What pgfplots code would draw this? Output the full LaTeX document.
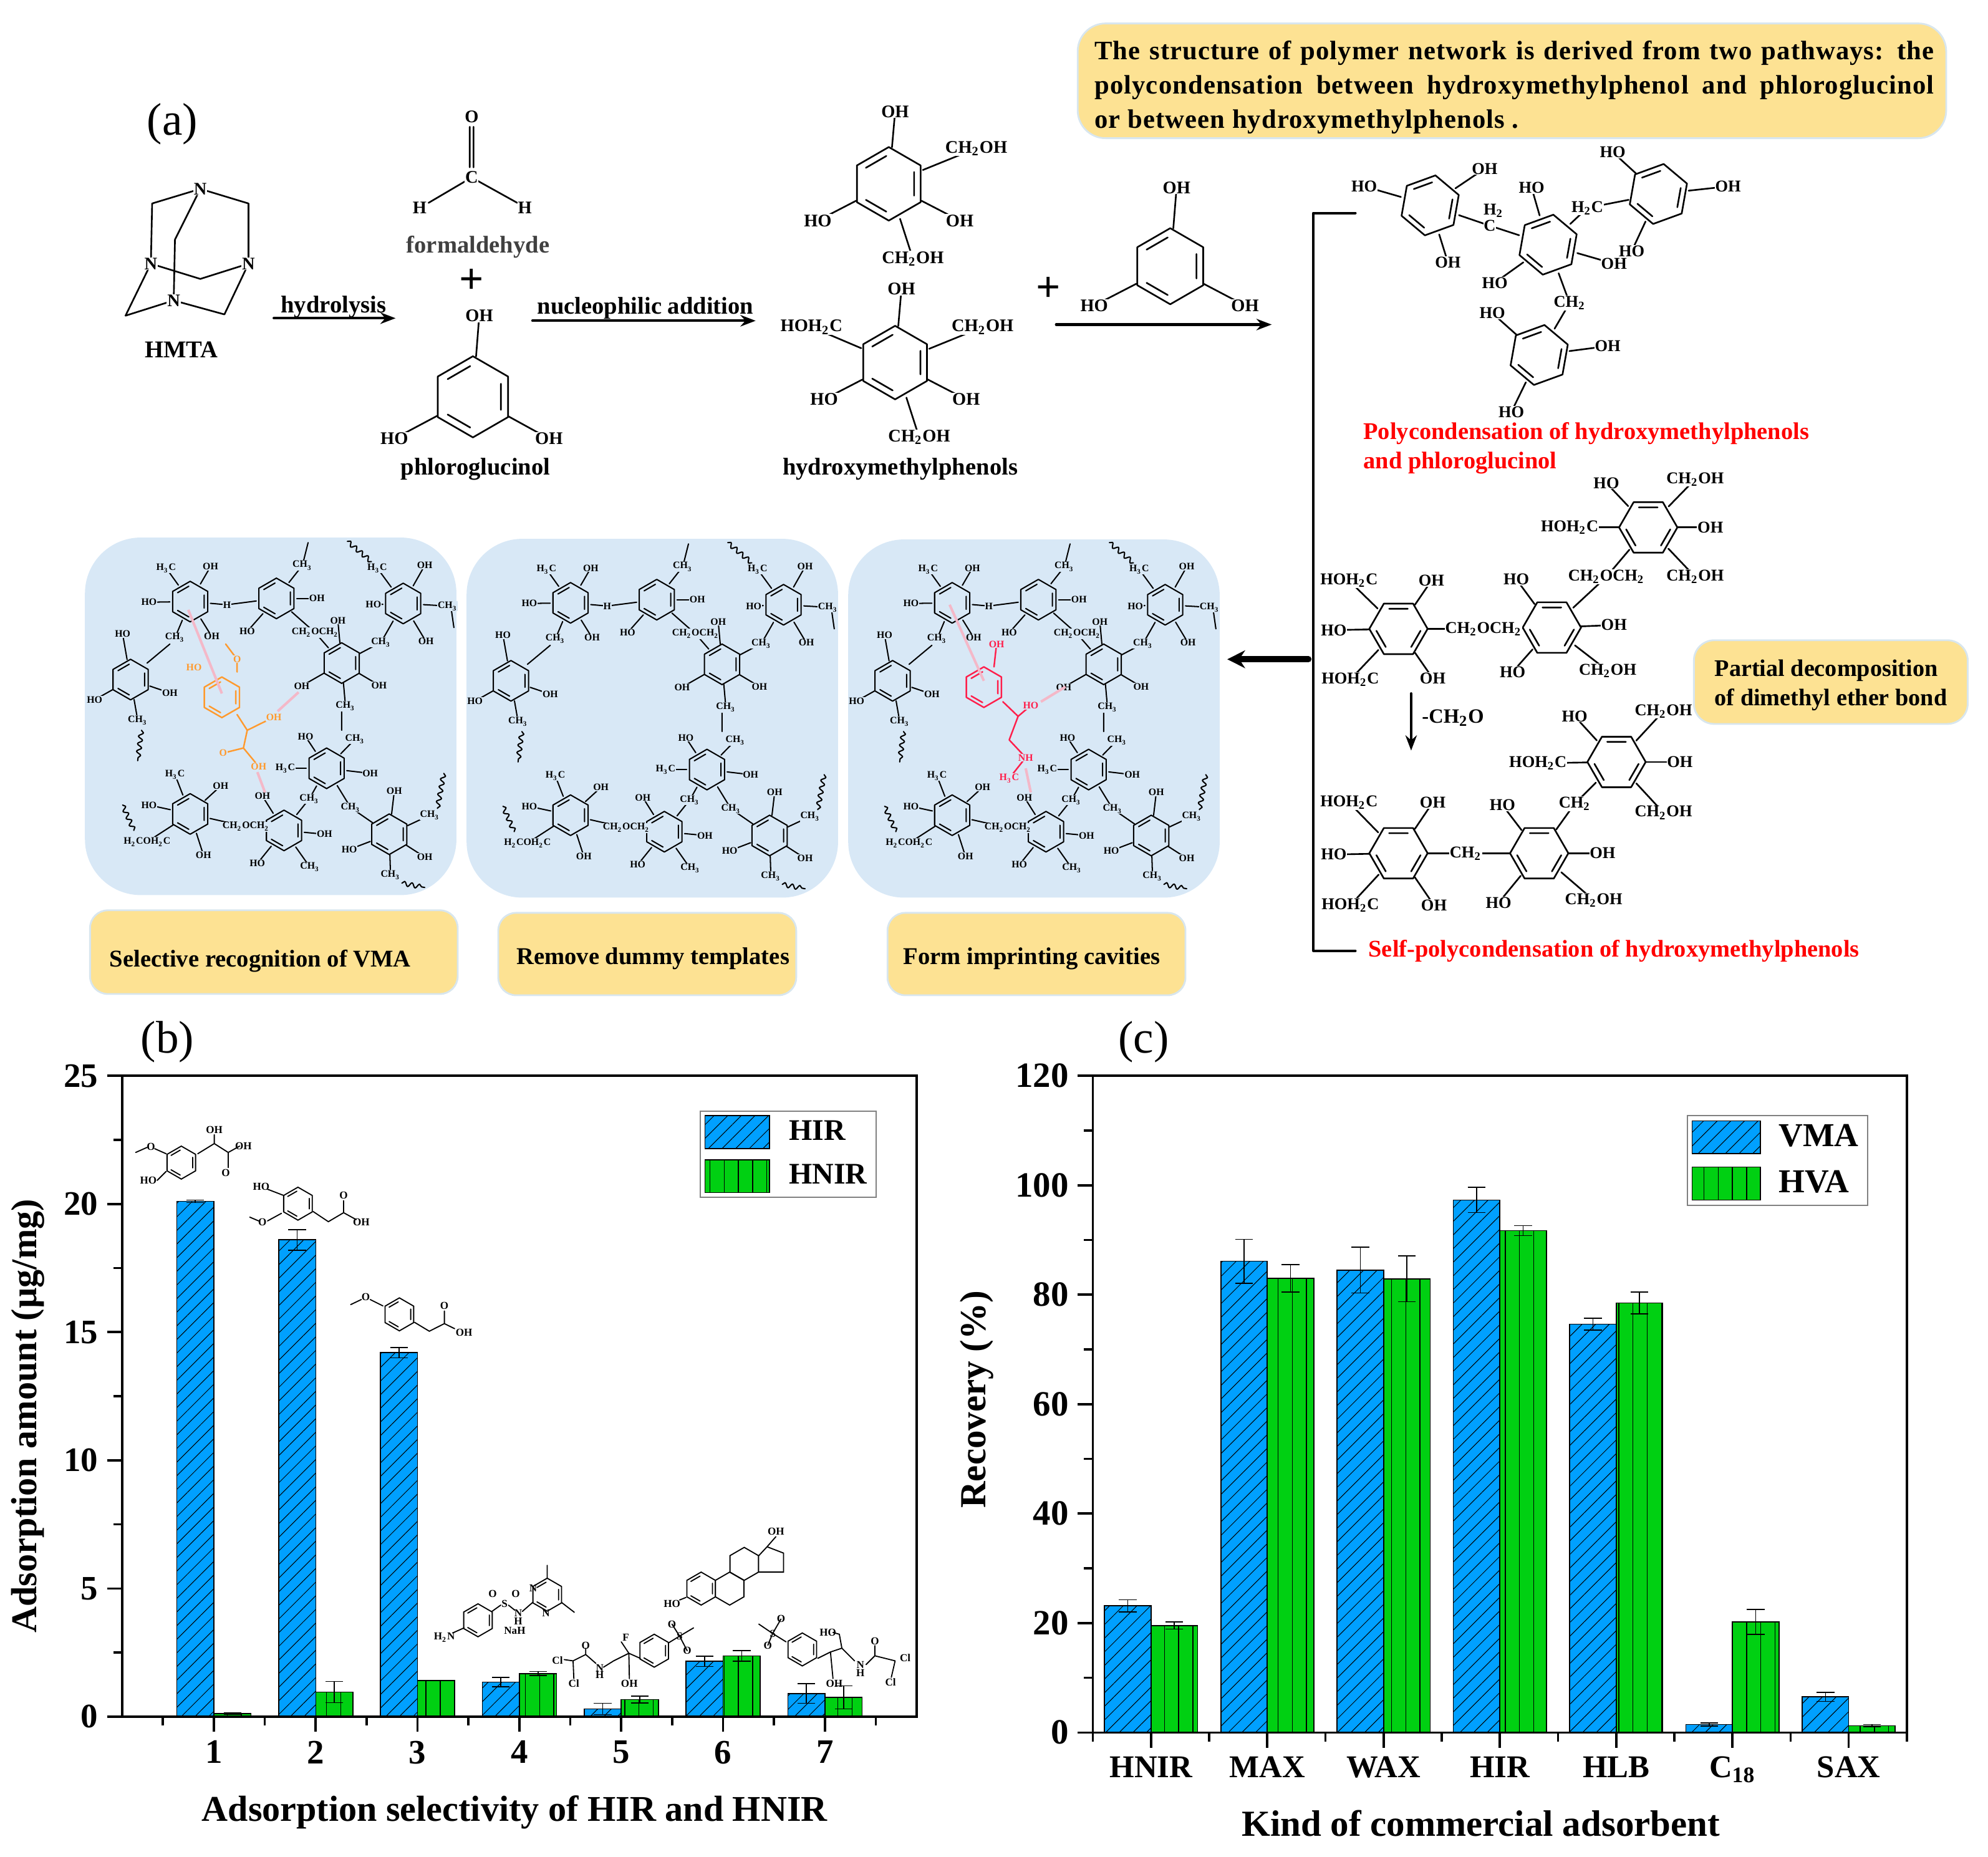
\documentclass[border=0pt]{standalone}
\usepackage{fontspec}
\setmainfont{Liberation Serif}
\usepackage{pgfplots}
\usepackage{pgfplotstable}
\pgfplotsset{compat=1.18}
\usetikzlibrary{patterns.meta,decorations.pathmorphing,arrows.meta}

\definecolor{barblue}{HTML}{00A0FF}
\definecolor{bargreen}{HTML}{00D012}
\definecolor{panelblue}{HTML}{D8E8F6}
\definecolor{boxyellow}{HTML}{FDE293}
\definecolor{boxedge}{HTML}{D8E6EE}
\definecolor{vpink}{HTML}{F4B8C8}
\definecolor{vorange}{HTML}{FF9A2E}
\definecolor{vred}{HTML}{FF1F4B}

% panel (b)
\pgfplotstableread{
x y e
1 20.10 0.05
2 18.60 0.40
3 14.20 0.20
4 1.35 0.18
5 0.30 0.22
6 2.16 0.20
7 0.90 0.38
}\hirdata
\pgfplotstableread{
x y e
1 0.12 0.04
2 0.96 0.41
3 1.41 0.00
4 1.68 0.08
5 0.67 0.13
6 2.37 0.20
7 0.75 0.45
}\hnirdata
% panel (c)
\pgfplotstableread{
x y e
1 23.15 1.1
2 86.10 4.0
3 84.50 4.2
4 97.30 2.3
5 74.60 1.1
6 1.45 0.3
7 6.50 0.8
}\vmadata
\pgfplotstableread{
x y e
1 19.55 0.65
2 83.00 2.5
3 82.90 4.2
4 91.70 0.9
5 78.50 2.0
6 20.20 2.3
7 1.25 0.2
}\hvadata

\newcommand{\fs}[1]{\fontsize{#1}{#1}\selectfont}
\newcommand{\sub}[1]{\textsubscript{#1}}
\def\labfont{\fs{7}\bfseries}
\def\labfill{white}
\tikzset{
  lab/.style={font=\labfont, fill=\labfill, inner sep=0.2pt},
  plain/.style={font=\fs{9.5}\bfseries, inner sep=0pt, yshift=-1pt},
  redtxt/.style={anchor=west, text=red, font=\fs{9.45}\bfseries, inner sep=0pt, yshift=-1pt},
  sm/.style={font=\fs{4.2}\bfseries, inner sep=0pt},
  chem/.style={line width=0.65pt, line cap=round, line join=round},
  fine/.style={line width=0.5pt, line cap=round, line join=round},
  wig/.style={fine, decorate, decoration={snake, amplitude=0.9pt, segment length=3pt}},
  ybox/.style={draw=boxedge, line width=0.7pt, fill=boxyellow, rounded corners=#1},
  hirbar/.style={draw=black, line width=0.4pt, fill=barblue,
    postaction={pattern={Lines[angle=45,distance=3.8pt,line width=0.25pt]}, pattern color=black}},
  nirbar/.style={draw=black, line width=0.4pt, fill=bargreen,
    postaction={pattern={Lines[angle=90,distance=5.6pt,line width=0.35pt]}, pattern color=black}},
}
% ring centre x, y, radius, rotation
\newcommand{\ring}[4]{%
  \begin{scope}[shift={(#1,#2)},rotate=#4]
    \draw (0:#3)--(60:#3)--(120:#3)--(180:#3)--(240:#3)--(300:#3)--cycle;
    \draw (5:{0.76*#3})--(55:{0.76*#3}) (125:{0.76*#3})--(175:{0.76*#3}) (245:{0.76*#3})--(295:{0.76*#3});
  \end{scope}}
% bonds from ring to labels: centre x, y, radius, list of x/y/text
\newcommand{\subs}[4]{%
  \foreach \lx/\ly/\ltxt in {#4}{%
    \draw[shorten <={#3*0.5pt}] (#1,#2)--(\lx,\ly);
    \node[lab] at (\lx,\ly) {\ltxt};}}
\newcommand{\mol}[6]{\ring{#1}{#2}{#3}{#4}\subs{#1}{#2}{#3}{#5}#6}

% the polymer network drawn in the three blue panels
\newcommand{\network}{%
  \begin{scope}[fine]
  \draw (243,428)--(238.5,446) (269.5,561)--(269.5,576) (356,481)--(358,495) (134,508)--(116,523);
  \draw[wig] (274,427)--(293,443);
  \draw[wig] (111.6,576)--(108.6,600);
  \draw[wig] (96.7,635)--(105.6,655);
  \draw[wig] (350,610)--(345,637.6);
  \draw[wig] (317,696.6)--(335,700);
  \mol{150}{474.5}{16}{30}{131/448/H\sub{3}C,166/447/OH,117.5/475/HO,179/477/H,167/502/OH,138/503/CH\sub{3}}{}
  \mol{218}{472}{16}{30}{238.5/446/CH\sub{3},250/472/OH,195/498/HO,179/477/H,248.6/499/CH\sub{2}OCH\sub{2}}{}
  \mol{318}{476}{16}{30}{297.5/448/H\sub{3}C,335/446/OH,294.5/477/HO,353/478/CH\sub{3},300.5/506.6/CH\sub{3},336/506/OH}{}
  \mol{269.5}{523}{16}{30}{248.6/499/CH\sub{2}OCH\sub{2},266.5/489.5/OH,300.5/506.6/CH\sub{3},238/541/OH,299/540.5/OH,272.5/557/CH\sub{3}}{}
  \mol{103}{536}{16}{30}{96.7/500/HO,134/546.5/OH,74.6/552/HO,108.6/568/CH\sub{3}}{}
  \mol{257.6}{606}{16}{30}{241/581/HO,280/583/CH\sub{3},225/606/H\sub{3}C,292/610/OH,244/630/CH\sub{3},276.6/637/CH\sub{3}}{}
  \mol{150}{642}{16}{30}{138/611/H\sub{3}C,174/620/OH,117.5/635/HO,194/652/CH\sub{2}OCH\sub{2},116/664/H\sub{2}COH\sub{2}C,160.5/674.5/OH}{}
  \mol{224}{655}{16}{30}{207/628/OH,244/630/CH\sub{3},194/652/CH\sub{2}OCH\sub{2},256/658/OH,203/681/HO,244.5/684/CH\sub{3}}{}
  \mol{307}{658}{16}{30}{276.6/637/CH\sub{3},311/624/OH,339/643/CH\sub{3},275.5/670/HO,335/676/OH,308/690/CH\sub{3}}{}
  \end{scope}}

\begin{document}
\begin{tikzpicture}[x=0.5pt,y=-0.5pt]
\useasboundingbox (0,0) rectangle (1568,1464.7);
\coordinate (bpos) at (96.4,1354);
\coordinate (cpos) at (862,1366.5);

%% ---------- panel (b)
\begin{axis}[
  at={(bpos)}, anchor=south west, scale only axis,
  width=313.3pt, height=252.75pt,
  ybar,
  bar width=0.365,
  legend image code/.code={\path[#1] (0pt,-6.5pt) rectangle (25.5pt,6.5pt);},
  xmin=0.1, xmax=7.9, ymin=0, ymax=25,
  xtick={1,2,3,4,5,6,7},
  minor xtick={0.5,1.5,2.5,3.5,4.5,5.5,6.5,7.5},
  ytick={0,5,10,15,20,25},
  minor y tick num=1,
  xtick pos=bottom, ytick pos=left,
  tick align=outside,
  major tick length=6pt, minor tick length=3.5pt,
  tick style={black, line width=0.9pt},
  axis line style={line width=0.9pt},
  axis on top,
  /pgf/number format/assume math mode=true,
  tick label style={font=\fs{13.5}\bfseries},
  xlabel={Adsorption selectivity of HIR and HNIR},
  ylabel={Adsorption amount (µg/mg)},
  label style={font=\fs{14.3}\bfseries},
  xlabel style={at={(axis description cs:0.494,-0.149)},anchor=center},
  ylabel style={at={(axis description cs:-0.119,0.469)},anchor=center},
  legend style={at={(0.9497,0.9456)},anchor=north east,draw=gray,line width=0.5pt,
    font=\fs{11.8}\bfseries,row sep=4pt,inner sep=1.5pt,cells={inner xsep=1.5pt}},
  legend cell align=left,
  error bars/error bar style={black,line width=0.4pt},
  error bars/error mark options={black,rotate=90,mark size=3.5pt,line width=0.4pt},
]
\addplot[hirbar, bar shift=-0.1825, error bars/.cd, y dir=both, y explicit]
  table[x=x,y=y,y error=e]{\hirdata};
\addplot[nirbar, bar shift=0.1825, error bars/.cd, y dir=both, y explicit]
  table[x=x,y=y,y error=e]{\hnirdata};
\legend{\hspace{5.5pt}HIR,\hspace{5.5pt}HNIR}
\end{axis}

%% ---------- panel (c)
\begin{axis}[
  at={(cpos)}, anchor=south west, scale only axis,
  width=321pt, height=259pt,
  ybar,
  bar width=0.4,
  legend image code/.code={\path[#1] (0pt,-6.5pt) rectangle (27pt,6.5pt);},
  xmin=0.5, xmax=7.5, ymin=0, ymax=120,
  xtick={1,2,3,4,5,6,7},
  xticklabels={HNIR,MAX,WAX,HIR,HLB,C\sub{18},SAX},
  minor xtick={0.5,1.5,2.5,3.5,4.5,5.5,6.5,7.5},
  ytick={0,20,40,60,80,100,120},
  minor y tick num=1,
  xtick pos=bottom, ytick pos=left,
  tick align=outside,
  major tick length=6pt, minor tick length=3.5pt,
  tick style={black, line width=0.9pt},
  axis line style={line width=0.9pt},
  axis on top,
  /pgf/number format/assume math mode=true,
  yticklabel style={font=\fs{14}\bfseries},
  xticklabel style={font=\fs{12.5}\bfseries},
  xlabel={Kind of commercial adsorbent},
  ylabel={Recovery (\%)},
  label style={font=\fs{14.5}\bfseries},
  xlabel style={at={(axis description cs:0.4766,-0.138)},anchor=center},
  ylabel style={at={(axis description cs:-0.143,0.507)},anchor=center},
  legend style={at={(0.9525,0.9405)},anchor=north east,draw=gray,line width=0.5pt,
    font=\fs{13.2}\bfseries,row sep=4pt,inner sep=1.5pt,cells={inner xsep=1.5pt}},
  legend cell align=left,
  error bars/error bar style={black,line width=0.4pt},
  error bars/error mark options={black,rotate=90,mark size=3.5pt,line width=0.4pt},
]
\addplot[hirbar, bar shift=-0.2, error bars/.cd, y dir=both, y explicit]
  table[x=x,y=y,y error=e]{\vmadata};
\addplot[nirbar, bar shift=0.2, error bars/.cd, y dir=both, y explicit]
  table[x=x,y=y,y error=e]{\hvadata};
\legend{\hspace{5pt}VMA,\hspace{5pt}HVA}
\end{axis}

\node[font=\fs{18}] at (136,98) {(a)};
\node[font=\fs{18}] at (132,822) {(b)};
\node[font=\fs{18}] at (902,822) {(c)};

%% ---------- panel (a): reaction scheme
\begin{scope}[chem]
% HMTA
\draw (158,149)--(120,160.5)--(119,208)--(99,249)--(137,237)--(177,248)--(196,208)--(196,160.5)--(158,149);
\draw (158,149)--(138,189)--(137,237);
\draw (119,208)--(158,220)--(196,208);
\foreach \a/\b in {158/149,119/208,196/208,137/237}{\node[lab] at (\a,\b) {N};}
\node[plain] at (143,274) {HMTA};
\node[plain] at (263,240) {hydrolysis};
\draw[line width=1pt,-{Stealth[length=6pt]}] (216,251)--(312,251);
% formaldehyde
\draw (370.5,100)--(370.5,132) (373.5,100)--(373.5,132) (372,140)--(338,160) (372,140)--(408,160);
\foreach \a/\b/\c in {372/92/O,372/140/C,331/164/H,414/164/H}{\node[lab] at (\a,\b) {\c};}
\node[plain,text=black!75] at (377,193) {formaldehyde};
\node[font=\fs{17}\bfseries] at (372,222) {+};
% phloroglucinol
\mol{373}{313}{32}{30}{378/249/OH,311/346/HO,433/346/OH}{}
\node[plain] at (375,368) {phloroglucinol};
\node[plain] at (509,241) {nucleophilic addition};
\draw[line width=1pt,-{Stealth[length=6pt]}] (420,253)--(596,253);
% hydroxymethylphenols
\mol{701}{145}{29}{30}{706/88/OH,770/117/CH\sub{2}OH,645/174/HO,757/174/OH,720/204/CH\sub{2}OH}{}
\mol{706}{286}{29}{30}{711/228/OH,640/258/HOH\sub{2}C,775/258/CH\sub{2}OH,650/315/HO,762/315/OH,725/345/CH\sub{2}OH}{}
\node[plain] at (710,368) {hydroxymethylphenols};
\node[font=\fs{17}\bfseries] at (827,228) {+};
\mol{923}{210}{30}{30}{928/148/OH,863/241/HO,982/241/OH}{}
\draw[line width=1pt,-{Stealth[length=6pt]}] (833,256)--(1003,256);
% bracket and thick arrow
\draw[line width=1pt] (1069,168)--(1036,168)--(1036,750)--(1069,750);
\draw[line width=2.4pt,-{Stealth[length=7pt,width=7pt]}] (1032,520)--(968,520);
% polycondensation product
\def\labfont{\fs{6.5}\bfseries}
\mol{1128}{162}{24}{20}{1076/147/HO,1171/133/OH,1142/207/OH,1175/178/C}{}
\mol{1221}{193}{24}{20}{1175/178/C,1208/148/HO,1273/208/OH,1179/223/HO,1252/164/H\sub{2}C,1238/239/CH\sub{2}}{}
\mol{1308}{153}{24}{20}{1252/164/H\sub{2}C,1272/120/HO,1363/147/OH,1287/198/HO}{}
\mol{1214}{280}{24}{20}{1238/239/CH\sub{2},1177/247/HO,1268/273/OH,1192/325/HO}{}
\node[lab] at (1178,166) {H\sub{2}};
% ether route
\mol{1300}{416}{23}{0}{1267/381/HO,1337/378/CH\sub{2}OH,1238/416/HOH\sub{2}C,1349/416/OH,1267/455/CH\sub{2}OCH\sub{2},1337/455/CH\sub{2}OH}{}
\mol{1103}{496}{23}{0}{1064/458/HOH\sub{2}C,1129/458/OH,1052/497/HO,1065/536/HOH\sub{2}C,1130/535/OH,1170/496/CH\sub{2}OCH\sub{2}}{}
\mol{1224}{495}{23}{0}{1170/496/CH\sub{2}OCH\sub{2},1196/457/HO,1267/455/CH\sub{2}OCH\sub{2},1273/493/OH,1193/530/HO,1268/529/CH\sub{2}OH}{}
\draw[line width=1pt,-{Stealth[length=6pt]}] (1113,547)--(1113,592);
\node[font=\fs{8}\bfseries] at (1146,566) {-CH\sub{2}O};
% methylene route
\mol{1275}{601}{23}{0}{1242/565/HO,1312/561/CH\sub{2}OH,1213/602/HOH\sub{2}C,1325/601/OH,1242/634/CH\sub{2},1312/641/CH\sub{2}OH}{}
\mol{1103}{673}{23}{0}{1064/633/HOH\sub{2}C,1130/633/OH,1052/674/HO,1065/714/HOH\sub{2}C,1131/714/OH,1156/673/CH\sub{2}}{}
\mol{1214}{673}{23}{0}{1156/673/CH\sub{2},1242/634/CH\sub{2},1185/635/HO,1264/673/OH,1182/712/HO,1257/710/CH\sub{2}OH}{}
\end{scope}
\node[redtxt] at (1075,340) {Polycondensation of hydroxymethylphenols};
\node[redtxt] at (1075,363) {and phloroglucinol};
\node[redtxt] at (1079,748) {Self-polycondensation of hydroxymethylphenols};

% note boxes
\draw[ybox=11pt] (850,18.5) rectangle (1535,109);
\begin{scope}[every node/.style={anchor=west,font=\fs{10.5}\bfseries\addfontfeatures{LetterSpace=2.5},inner sep=0pt,yshift=-1pt}]
\node at (863,40) {\makebox[331pt][s]{The structure of polymer network is derived from two pathways: the}};
\node at (863,67) {\makebox[331pt][s]{polycondensation between hydroxymethylphenol and phloroglucinol}};
\node at (863,94) {or between hydroxymethylphenols .};
\end{scope}
\draw[ybox=8pt] (1336,505) rectangle (1552,571);
\node[anchor=west,font=\fs{9.4}\bfseries,inner sep=0pt,yshift=-1pt] at (1352,527) {Partial decomposition};
\node[anchor=west,font=\fs{9.4}\bfseries,inner sep=0pt,yshift=-1pt] at (1352,550) {of dimethyl ether bond};

% blue panels
\fill[panelblue,rounded corners=22pt] (67,424) rectangle (360,706);
\fill[panelblue,rounded corners=22pt] (368,425) rectangle (661,708);
\fill[panelblue,rounded corners=22pt] (669,425.5) rectangle (962,708);
\def\labfill{panelblue}
\def\labfont{\fs{3.9}\bfseries}
\network
\begin{scope}[shift={(300,1)}]\network\end{scope}
\begin{scope}[shift={(601,1)}]\network\end{scope}
% template in first panel
\begin{scope}[fine,draw=vorange,line width=0.6pt]
\ring{175}{550}{16}{30}
\draw (178,508)--(187,520)--(187,530);
\draw (187,563.6)--(195,576)--(210,568.6);
\draw (195,576)--(192,590)--(176,594) (192,590)--(204,604.5);
\end{scope}
\foreach \a/\b/\c in {153/526.4/HO,187/520/O,216/566/OH,176/594/O,204/604.5/OH}{\node[font=\fs{3.9}\bfseries,text=vorange,fill=panelblue,inner sep=0.2pt] at (\a,\b) {\c};}
\draw[vpink,line width=1pt] (148.5,481)--(175,547) (235.5,546)--(219,561) (203,609)--(209,625);
% template in third panel
\begin{scope}[fine,draw=vred,line width=0.6pt]
\ring{776}{542}{16}{30}
\draw (786,508)--(784,526);
\draw (791,553.5)--(803,565)--(813,556.5) (803,565)--(796,583.6)--(809,597.5)--(796,614);
\end{scope}
\foreach \a/\b/\c in {786/508/OH,813/556.5/HO,809/597.5/NH,796/614/H\sub{3}C}{\node[font=\fs{3.9}\bfseries,text=vred,fill=panelblue,inner sep=0.2pt] at (\a,\b) {\c};}
\draw[vpink,line width=1pt] (749,477)--(776,537) (840.4,541.7)--(821,553.5) (809,606)--(813,625);

% yellow step boxes
\draw[ybox=7pt] (71,718) rectangle (361,784);
\draw[ybox=7pt] (393,720) rectangle (628,785);
\draw[ybox=7pt] (700,720) rectangle (935,785);
\node[plain,anchor=west] at (86,756) {Selective recognition of VMA};
\node[plain,anchor=west] at (407,754) {Remove dummy templates};
\node[plain,anchor=west] at (712,754) {Form imprinting cavities};

%% ---------- small structures over panel (b)
\begin{scope}[line width=0.45pt, line cap=round, every node/.style={sm}]
% 1
\ring{143}{917}{13}{30}
\draw (156,910)--(169,902)--(169,895) (169,902)--(180,909)--(189,904) (180,909)--(180,921) (107,909)--(116,905) (122,906)--(131,910) (124,931)--(131,924);
\node at (169,891) {OH}; \node at (192,904) {OH}; \node at (178,925) {O}; \node at (119,904.5) {O}; \node at (117,931) {HO};
% 2
\ring{235}{949.4}{13}{30}
\draw (247,955.6)--(259,963.6)--(271,956.5)--(281,962) (271,956.5)--(271,947) (197,960)--(204,963) (211,963)--(222,957) (211,938)--(224,943);
\node at (206,936) {HO}; \node at (207,964) {O}; \node at (285,964) {OH}; \node at (271,943) {O};
% 3
\ring{315}{1036.7}{13}{30}
\draw (327,1043)--(338.6,1050)--(350.5,1044)--(358.6,1048) (350.5,1044)--(350.5,1034) (276.6,1029)--(285,1025) (292,1025)--(302,1030);
\node at (288.5,1023) {O}; \node at (350.5,1030) {O}; \node at (366,1051) {OH};
% 4
\ring{377}{1278}{13}{30}
\ring{431.6}{1257.8}{13}{30}
\draw (388,1271)--(395,1266) (401,1266)--(406,1270) (412,1271)--(420,1264) (431.6,1245)--(431.6,1234.7) (443,1264)--(453,1271.7) (357,1288)--(366,1284);
\node at (350.5,1291.5) {H\sub{2}N}; \node at (398,1265) {S}; \node at (388.6,1257) {O}; \node at (406.8,1257) {O}; \node at (408.7,1272.5) {N}; \node at (408.7,1278.5) {H}; \node at (406,1286) {NaH}; \node at (420.6,1252.5) {N}; \node at (430.6,1272.5) {N};
% 5
\ring{516}{1302}{13}{30}
\draw (527,1296)--(536,1290.5)--(547,1284) (536,1290.5)--(530,1281) (536,1290.5)--(542,1302) (505,1308)--(496,1304)--(484,1310)--(476,1315) (496,1304)--(490,1295) (496,1304)--(496.4,1324) (470,1312)--(462,1305)--(452,1310)--(445,1309) (452,1310)--(452.6,1324) (462,1305)--(462,1300);
\node at (536,1290.5) {S}; \node at (530,1281) {O}; \node at (542,1302) {O}; \node at (493.6,1291.4) {F}; \node at (496.4,1328) {OH}; \node at (473,1315.7) {N}; \node at (473,1321) {H}; \node at (462,1297.7) {O}; \node at (439.7,1309.4) {Cl}; \node at (452.6,1328) {Cl};
% 6
\ring{553}{1253}{13}{30}
\begin{scope}[shift={(575.5,1253)}]\draw (30:13)--(90:13)--(150:13)--(210:13)--(270:13)--(330:13)--cycle;\end{scope}
\begin{scope}[shift={(587,1233.5)}]\draw (30:13)--(90:13)--(150:13)--(210:13)--(270:13)--(330:13)--cycle;\end{scope}
\draw (598.5,1227)--(605,1220)--(618,1225)--(618,1240)--(598.5,1240) (605,1220)--(612,1212) (536,1262)--(541,1260);
\node at (612,1208) {OH}; \node at (530,1265) {HO};
% 7
\ring{632.8}{1301}{13}{30}
\draw (620,1295)--(609.4,1288.4)--(598.5,1281) (609.4,1288.4)--(616,1277) (609.4,1288.4)--(605.6,1297.7) (645,1308)--(655,1303)--(664,1300)--(674,1310) (664,1300)--(662,1289)--(657,1287.6) (655,1303)--(657,1324) (683,1313)--(690,1306)--(706,1310) (690,1306)--(690,1298) (706,1310)--(703,1323);
\node at (609.4,1288.4) {S}; \node at (616,1277) {O}; \node at (605.6,1297.7) {O}; \node at (653,1287.6) {HO}; \node at (658,1328) {OH}; \node at (678.6,1313.3) {N}; \node at (678.6,1319.5) {H}; \node at (690,1294.7) {O}; \node at (714,1307.8) {Cl}; \node at (702.4,1327) {Cl};
\end{scope}
\end{tikzpicture}
\end{document}
